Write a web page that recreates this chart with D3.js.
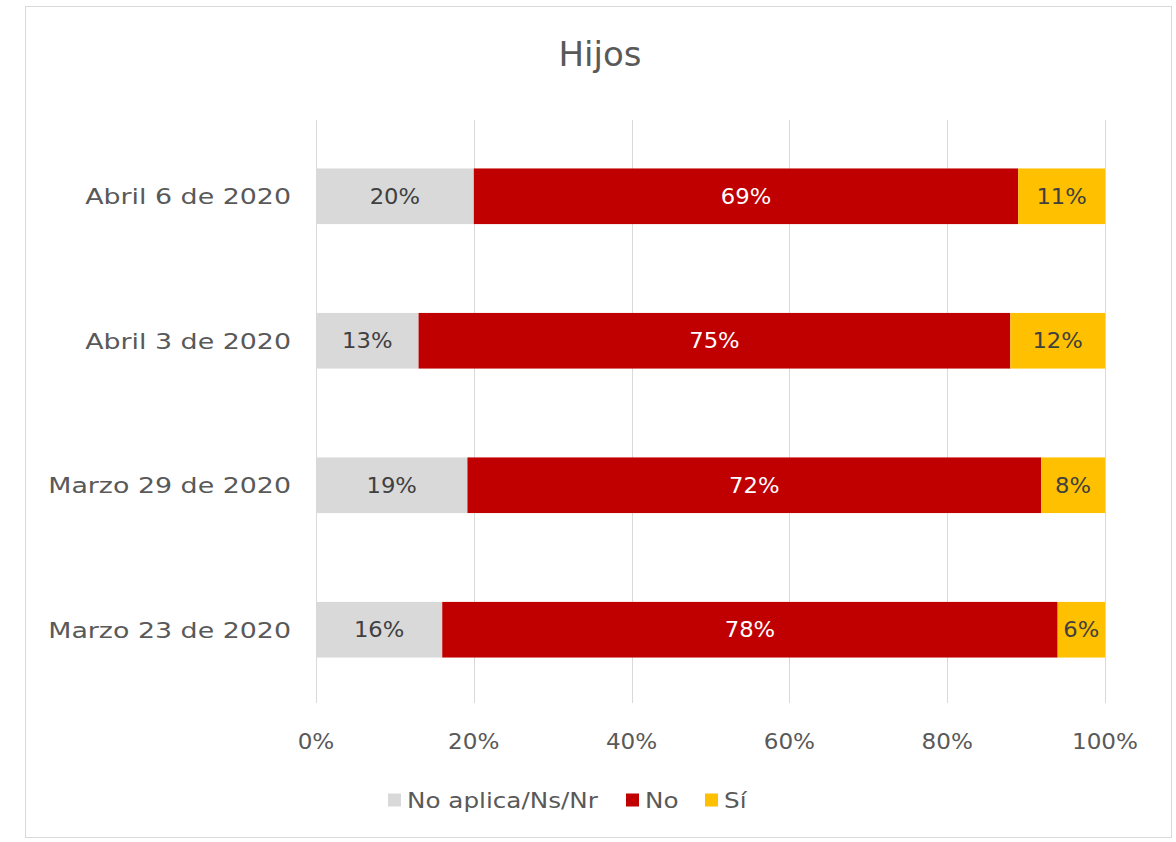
<!DOCTYPE html>
<html>
<head>
<meta charset="utf-8">
<script src="https://cdn.jsdelivr.net/npm/d3@7"></script>
<style>
  body { margin: 0; background: #fff; }
  svg text { font-family: "DejaVu Sans", sans-serif; fill: #595959; }
</style>
</head>
<body>
<div id="chart"></div>
<script>
// data, top row first
var categories = ["Abril 6 de 2020", "Abril 3 de 2020", "Marzo 29 de 2020", "Marzo 23 de 2020"];
var noAplica = [20, 13, 19, 16];
var no = [69, 75, 72, 78];
var si = [11, 12, 8, 6];
var seriesNames = ["No aplica/Ns/Nr", "No", "Sí"];
var tickLabels = ["0%", "20%", "40%", "60%", "80%", "100%"];

var colors = ["#d9d9d9", "#c00000", "#ffc000"];
var labelColors = ["#404040", "#ffffff", "#404040"];

var width = 1176, height = 842;
var plotLeft = 316, plotRight = 1105, plotTop = 120, plotBottom = 703;

var svg = d3.select("#chart").append("svg")
  .attr("width", width)
  .attr("height", height);

// widen glyphs a bit to look like the original geometric face
function stretch(sel, k) {
  sel.each(function() {
    var w = this.getComputedTextLength();
    d3.select(this).attr("textLength", w * k).attr("lengthAdjust", "spacingAndGlyphs");
  });
}

// outer frame
svg.append("rect")
  .attr("x", 25.5).attr("y", 6.5)
  .attr("width", 1146).attr("height", 831)
  .attr("fill", "#fff")
  .attr("stroke", "#d9d9d9");

// title
svg.append("text")
  .attr("x", 600).attr("y", 66)
  .attr("text-anchor", "middle")
  .attr("font-size", "34px")
  .text("Hijos");

var x = d3.scaleLinear().domain([0, 1]).range([plotLeft, plotRight]);
var y = d3.scaleBand().domain(categories)
  .range([124, 702])
  .paddingInner(0.615).paddingOuter(0.3077);

// gridlines
svg.append("g").selectAll("line")
  .data(d3.range(0, 1.01, 0.2))
  .join("line")
  .attr("x1", function(d) { return Math.round(x(d)) + 0.5; })
  .attr("x2", function(d) { return Math.round(x(d)) + 0.5; })
  .attr("y1", plotTop)
  .attr("y2", plotBottom)
  .attr("stroke", "#d9d9d9")
  .attr("stroke-width", 1);

// x tick labels
svg.append("g").selectAll("text")
  .data(tickLabels)
  .join("text")
  .attr("x", function(d, i) { return x(i * 0.2); })
  .attr("y", 749)
  .attr("text-anchor", "middle")
  .attr("font-size", "21px")
  .text(function(d) { return d; })
  .call(stretch, 1.1);

// y category labels
svg.append("g").selectAll("text")
  .data(categories)
  .join("text")
  .attr("x", 291)
  .attr("y", function(d) { return y(d) + y.bandwidth() / 2; })
  .attr("dy", "0.36em")
  .attr("text-anchor", "end")
  .attr("font-size", "22px")
  .text(function(d) { return d; })
  .call(stretch, 1.22);

// stacked (100%) rows
var rows = categories.map(function(c, i) {
  return {cat: c, vals: [noAplica[i], no[i], si[i]]};
});

rows.forEach(function(r) {
  var total = d3.sum(r.vals);
  var start = 0;
  var segs = r.vals.map(function(v, k) {
    var s = {k: k, v: v, x0: start / total, x1: (start + v) / total};
    start += v;
    return s;
  });
  var g = svg.append("g");
  g.selectAll("rect")
    .data(segs)
    .join("rect")
    .attr("x", function(d) { return x(d.x0); })
    .attr("width", function(d) { return x(d.x1) - x(d.x0); })
    .attr("y", y(r.cat))
    .attr("height", y.bandwidth())
    .attr("fill", function(d) { return colors[d.k]; });
  g.selectAll("text")
    .data(segs)
    .join("text")
    .attr("x", function(d) { return (x(d.x0) + x(d.x1)) / 2; })
    .attr("y", y(r.cat) + y.bandwidth() / 2)
    .attr("dy", "0.36em")
    .attr("text-anchor", "middle")
    .attr("font-size", "21px")
    .style("fill", function(d) { return labelColors[d.k]; })
    .text(function(d) { return d.v + "%"; })
    .call(stretch, 1.08);
});

// legend
var legendX = [388, 626, 705];
var legend = svg.append("g").selectAll("g")
  .data(seriesNames)
  .join("g")
  .attr("transform", function(d, i) { return "translate(" + legendX[i] + ",800)"; });
legend.append("rect")
  .attr("x", 0).attr("y", -6.5)
  .attr("width", 13).attr("height", 13)
  .attr("fill", function(d, i) { return colors[i]; });
legend.append("text")
  .attr("x", 19)
  .attr("dy", "0.36em")
  .attr("font-size", "22px")
  .text(function(d) { return d; })
  .call(stretch, 1.12);
</script>
</body>
</html>
